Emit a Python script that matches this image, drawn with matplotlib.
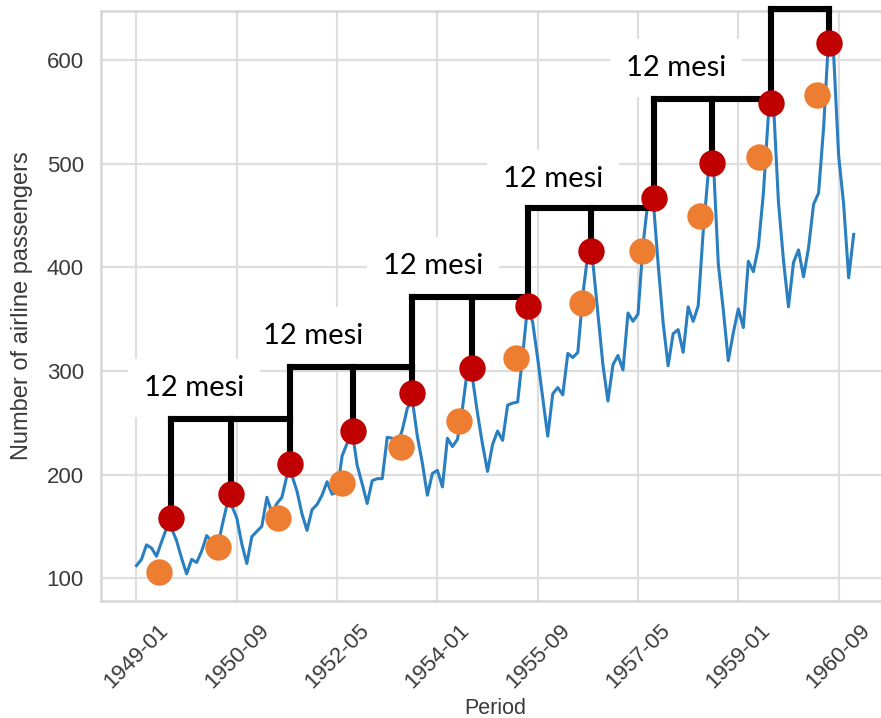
import numpy as np
import pandas as pd
import matplotlib
matplotlib.use("Agg")
import matplotlib.pyplot as plt

plt.rcParams['font.family'] = ['Liberation Sans', 'DejaVu Sans']

# monthly airline passengers, 1949-01 .. 1960-12
passengers = [
    112, 118, 132, 129, 121, 135, 148, 148, 136, 119, 104, 118,
    115, 126, 141, 135, 125, 149, 170, 170, 158, 133, 114, 140,
    145, 150, 178, 163, 172, 178, 199, 199, 184, 162, 146, 166,
    171, 180, 193, 181, 183, 218, 230, 242, 209, 191, 172, 194,
    196, 196, 236, 235, 229, 243, 264, 272, 237, 211, 180, 201,
    204, 188, 235, 227, 234, 264, 302, 293, 259, 229, 203, 229,
    242, 233, 267, 269, 270, 315, 364, 347, 312, 274, 237, 278,
    284, 277, 317, 313, 318, 374, 413, 405, 355, 306, 271, 306,
    315, 301, 356, 348, 355, 422, 465, 467, 404, 347, 305, 336,
    340, 318, 362, 348, 363, 435, 491, 505, 404, 359, 310, 337,
    360, 342, 406, 396, 420, 472, 548, 559, 463, 407, 362, 405,
    417, 391, 419, 461, 472, 535, 622, 606, 508, 461, 390, 432,
]
periods = pd.period_range('1949-01', periods=len(passengers), freq='M')
tick_step = 20

# hand-placed markers (x in months since 1949-01)
red_x = [6.9, 18.8, 30.6, 43.2, 54.9, 66.9, 78.1, 90.6, 103.2, 114.8, 126.5, 138.1]
red_y = [158, 181, 210, 242, 279, 303, 363, 416, 467, 501, 559, 617]
orange_x = [4.5, 16.3, 28.2, 41.0, 52.7, 64.3, 75.7, 88.8, 100.8, 112.4, 124.1, 135.7]
orange_y = [106, 130, 158, 192, 227, 252, 313, 366, 416, 450, 507, 567]

# bracket levels and "12 mesi" labels
bracket_y = [253.6, 304.3, 371.5, 457.5, 562.8, 649.8]
label_x = [11.5, 35.2, 59.1, 83.1, 107.6]
label_y = [283.6, 333.8, 401.4, 485.5, 592.8]
label_text = '12 mesi'

fig = plt.figure(figsize=(8.81, 7.18), dpi=100)
ax = fig.add_axes([0.1142, 0.1634, 0.8955, 0.8214])

x = np.arange(len(passengers))
ax.plot(x, passengers, color='#2a7fc0', lw=2.2, zorder=2)
xl, yl = ax.get_xlim(), ax.get_ylim()

ax.set_xticks(x[::tick_step])
ax.set_xticklabels(periods[::tick_step].strftime('%Y-%m'), rotation=45)
ax.set_yticks(np.arange(100, 601, 100))

ax.grid(True, color='#dedede', lw=1.6, zorder=0)
ax.set_axisbelow(True)
for s in ax.spines.values():
    s.set_color('#d6d6d6')
    s.set_linewidth(1.8)
ax.tick_params(length=0, labelsize=16, colors='#3a3a3a')
ax.tick_params(axis='y', pad=12)
ax.tick_params(axis='x', pad=14)
ax.set_xlabel('Period', fontsize=15.5, color='#3a3a3a', labelpad=4)
ax.set_ylabel('Number of airline passengers', fontsize=17, color='#3a3a3a', labelpad=10)

# staircase brackets
lk = dict(color='black', lw=4.4, solid_capstyle='projecting', solid_joinstyle='miter',
          zorder=4, clip_on=False)
n = len(red_x)
for k, lev in enumerate(bracket_y):
    i0, i1 = 2 * k, 2 * k + 1
    i2 = i0 + 2 if i0 + 2 < n else i1
    ax.plot([red_x[i0], red_x[i2]], [lev, lev], **lk)
    ax.plot([red_x[i0], red_x[i0]], [red_y[i0], lev], **lk)
    ax.plot([red_x[i1], red_x[i1]], [red_y[i1], lev], **lk)

ax.plot(orange_x, orange_y, 'o', ms=19, color='#ed7d31', mec='none', zorder=5, clip_on=False)
ax.plot(red_x, red_y, 'o', ms=19, color='#c00000', mec='none', zorder=5, clip_on=False)

for tx, ty in zip(label_x, label_y):
    ax.text(tx, ty, label_text, fontsize=21, family='Lato', ha='center', va='center',
            zorder=3, bbox=dict(boxstyle='square,pad=0.55', fc='white', ec='none'))

ax.set_xlim(xl)
ax.set_ylim(yl)

fig.savefig('out.png', dpi=100)
